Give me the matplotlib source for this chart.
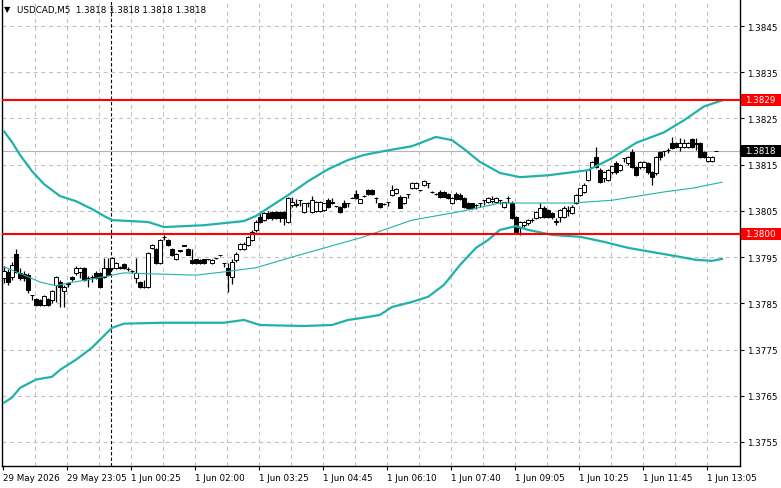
import matplotlib
matplotlib.use('Agg')
import matplotlib.pyplot as plt
from matplotlib.patches import Rectangle

# Chart data (USDCAD, M5).
TITLE = 'USDCAD,M5  1.3818 1.3818 1.3818 1.3818'

OPEN = [1.37905, 1.37918, 1.37907, 1.37956, 1.37916, 1.37914, 1.37911, 1.37868, 1.37860, 1.37857,
        1.37847, 1.37860, 1.37857, 1.37890, 1.37896, 1.37877, 1.37892, 1.37907, 1.37916, 1.37918,
        1.37927, 1.37905, 1.37906, 1.37916, 1.37916, 1.37907, 1.37927, 1.37927, 1.37927, 1.37927,
        1.37936, 1.37925, 1.37920, 1.37905, 1.37896, 1.37886, 1.37885, 1.37970, 1.37967, 1.37937,
        1.37993, 1.37987, 1.37967, 1.37946, 1.37964, 1.37976, 1.37967, 1.37944, 1.37945, 1.37944,
        1.37945, 1.37945, 1.37937, 1.37947, 1.37954, 1.37937, 1.37927, 1.37907, 1.37944, 1.37968,
        1.37968, 1.37976, 1.37987, 1.38009, 1.38037, 1.38030, 1.38045, 1.38048, 1.38047, 1.38048,
        1.38047, 1.38026, 1.38063, 1.38063, 1.38073, 1.38048, 1.38067, 1.38048, 1.38050, 1.38050,
        1.38052, 1.38073, 1.38069, 1.38060, 1.38058, 1.38067, 1.38067, 1.38078, 1.38087, 1.38067,
        1.38082, 1.38095, 1.38095, 1.38078, 1.38067, 1.38065, 1.38069, 1.38084, 1.38088, 1.38080,
        1.38067, 1.38086, 1.38099, 1.38099, 1.38095, 1.38106, 1.38110, 1.38091, 1.38087, 1.38091,
        1.38090, 1.38086, 1.38067, 1.38086, 1.38085, 1.38078, 1.38067, 1.38067, 1.38063, 1.38067,
        1.38073, 1.38069, 1.38071, 1.38069, 1.38073, 1.38058, 1.38078, 1.38067, 1.38037, 1.38013,
        1.38019, 1.38024, 1.38030, 1.38035, 1.38037, 1.38056, 1.38052, 1.38045, 1.38026, 1.38037,
        1.38037, 1.38050, 1.38045, 1.38067, 1.38084, 1.38091, 1.38117, 1.38145, 1.38166, 1.38138,
        1.38121, 1.38117, 1.38134, 1.38153, 1.38138, 1.38164, 1.38153, 1.38177, 1.38145, 1.38145,
        1.38145, 1.38153, 1.38134, 1.38132, 1.38177, 1.38179, 1.38181, 1.38197, 1.38197, 1.38188,
        1.38188, 1.38188, 1.38206, 1.38195, 1.38197, 1.38177, 1.38158, 1.38158, 1.38180]
HIGH = [1.37930, 1.37925, 1.37940, 1.37968, 1.37927, 1.37920, 1.37916, 1.37868, 1.37862, 1.37860,
        1.37868, 1.37862, 1.37879, 1.37910, 1.37900, 1.37890, 1.37896, 1.37910, 1.37930, 1.37929,
        1.37929, 1.37910, 1.37912, 1.37920, 1.37918, 1.37948, 1.37948, 1.37950, 1.37940, 1.37930,
        1.37938, 1.37928, 1.37922, 1.37948, 1.37898, 1.37901, 1.37962, 1.37978, 1.37970, 1.37990,
        1.37998, 1.37989, 1.37970, 1.37958, 1.37966, 1.37977, 1.37970, 1.37967, 1.37946, 1.37946,
        1.37946, 1.37946, 1.37946, 1.37948, 1.37955, 1.37938, 1.37937, 1.37945, 1.37960, 1.37980,
        1.37982, 1.37996, 1.38008, 1.38030, 1.38045, 1.38048, 1.38050, 1.38050, 1.38050, 1.38050,
        1.38050, 1.38080, 1.38080, 1.38075, 1.38074, 1.38068, 1.38070, 1.38082, 1.38072, 1.38071,
        1.38068, 1.38078, 1.38078, 1.38061, 1.38060, 1.38074, 1.38068, 1.38079, 1.38095, 1.38076,
        1.38084, 1.38097, 1.38097, 1.38079, 1.38068, 1.38066, 1.38070, 1.38106, 1.38100, 1.38084,
        1.38080, 1.38087, 1.38112, 1.38112, 1.38096, 1.38117, 1.38111, 1.38092, 1.38088, 1.38095,
        1.38093, 1.38088, 1.38080, 1.38090, 1.38088, 1.38080, 1.38069, 1.38068, 1.38064, 1.38068,
        1.38074, 1.38080, 1.38082, 1.38080, 1.38074, 1.38070, 1.38082, 1.38072, 1.38040, 1.38028,
        1.38028, 1.38032, 1.38034, 1.38050, 1.38067, 1.38060, 1.38055, 1.38048, 1.38035, 1.38055,
        1.38060, 1.38060, 1.38062, 1.38086, 1.38100, 1.38110, 1.38140, 1.38158, 1.38188, 1.38142,
        1.38136, 1.38140, 1.38148, 1.38158, 1.38152, 1.38165, 1.38168, 1.38183, 1.38148, 1.38158,
        1.38158, 1.38156, 1.38136, 1.38168, 1.38180, 1.38180, 1.38185, 1.38210, 1.38200, 1.38208,
        1.38205, 1.38200, 1.38208, 1.38208, 1.38200, 1.38180, 1.38168, 1.38168, 1.38180]
LOW = [1.37895, 1.37890, 1.37900, 1.37915, 1.37900, 1.37898, 1.37872, 1.37858, 1.37845, 1.37845,
       1.37845, 1.37845, 1.37851, 1.37853, 1.37842, 1.37842, 1.37886, 1.37898, 1.37912, 1.37905,
       1.37898, 1.37886, 1.37896, 1.37903, 1.37883, 1.37905, 1.37909, 1.37922, 1.37925, 1.37924,
       1.37925, 1.37920, 1.37916, 1.37894, 1.37883, 1.37884, 1.37883, 1.37968, 1.37936, 1.37935,
       1.37987, 1.37975, 1.37953, 1.37944, 1.37962, 1.37974, 1.37954, 1.37936, 1.37936, 1.37936,
       1.37936, 1.37944, 1.37936, 1.37946, 1.37952, 1.37928, 1.37874, 1.37892, 1.37940, 1.37965,
       1.37966, 1.37975, 1.37985, 1.38005, 1.38024, 1.38028, 1.38033, 1.38030, 1.38033, 1.38026,
       1.38020, 1.38024, 1.38058, 1.38058, 1.38060, 1.38045, 1.38058, 1.38046, 1.38048, 1.38048,
       1.38050, 1.38056, 1.38064, 1.38059, 1.38046, 1.38056, 1.38058, 1.38077, 1.38076, 1.38066,
       1.38080, 1.38084, 1.38085, 1.38067, 1.38057, 1.38063, 1.38060, 1.38082, 1.38086, 1.38056,
       1.38065, 1.38077, 1.38097, 1.38097, 1.38094, 1.38104, 1.38100, 1.38088, 1.38084, 1.38078,
       1.38079, 1.38075, 1.38065, 1.38074, 1.38074, 1.38056, 1.38054, 1.38053, 1.38054, 1.38058,
       1.38063, 1.38066, 1.38068, 1.38067, 1.38064, 1.38056, 1.38068, 1.38033, 1.38002, 1.37998,
       1.38015, 1.38020, 1.38026, 1.38033, 1.38035, 1.38035, 1.38035, 1.38033, 1.38020, 1.38026,
       1.38035, 1.38040, 1.38043, 1.38065, 1.38082, 1.38089, 1.38115, 1.38143, 1.38143, 1.38110,
       1.38112, 1.38115, 1.38130, 1.38130, 1.38136, 1.38155, 1.38150, 1.38143, 1.38125, 1.38140,
       1.38142, 1.38130, 1.38106, 1.38128, 1.38160, 1.38168, 1.38176, 1.38184, 1.38186, 1.38179,
       1.38186, 1.38186, 1.38186, 1.38182, 1.38164, 1.38164, 1.38156, 1.38156, 1.38180]
CLOSE = [1.37920, 1.37896, 1.37933, 1.37918, 1.37905, 1.37905, 1.37879, 1.37867, 1.37847, 1.37847,
         1.37866, 1.37847, 1.37876, 1.37907, 1.37885, 1.37886, 1.37894, 1.37903, 1.37927, 1.37927,
         1.37901, 1.37904, 1.37907, 1.37905, 1.37885, 1.37927, 1.37911, 1.37948, 1.37937, 1.37928,
         1.37927, 1.37924, 1.37919, 1.37916, 1.37885, 1.37885, 1.37959, 1.37976, 1.37937, 1.37987,
         1.37994, 1.37976, 1.37955, 1.37957, 1.37965, 1.37975, 1.37955, 1.37937, 1.37937, 1.37937,
         1.37937, 1.37945, 1.37944, 1.37947, 1.37954, 1.37937, 1.37911, 1.37940, 1.37957, 1.37978,
         1.37978, 1.37993, 1.38004, 1.38026, 1.38026, 1.38045, 1.38035, 1.38035, 1.38035, 1.38035,
         1.38035, 1.38078, 1.38070, 1.38064, 1.38073, 1.38067, 1.38068, 1.38073, 1.38069, 1.38069,
         1.38066, 1.38058, 1.38068, 1.38061, 1.38048, 1.38058, 1.38067, 1.38078, 1.38078, 1.38075,
         1.38082, 1.38086, 1.38087, 1.38078, 1.38058, 1.38065, 1.38069, 1.38095, 1.38097, 1.38056,
         1.38080, 1.38086, 1.38110, 1.38110, 1.38095, 1.38115, 1.38110, 1.38090, 1.38086, 1.38080,
         1.38080, 1.38078, 1.38078, 1.38076, 1.38076, 1.38058, 1.38056, 1.38056, 1.38063, 1.38067,
         1.38073, 1.38078, 1.38075, 1.38078, 1.38073, 1.38069, 1.38078, 1.38035, 1.38004, 1.38026,
         1.38026, 1.38030, 1.38031, 1.38048, 1.38056, 1.38037, 1.38037, 1.38037, 1.38028, 1.38052,
         1.38056, 1.38052, 1.38058, 1.38084, 1.38099, 1.38106, 1.38138, 1.38155, 1.38145, 1.38112,
         1.38134, 1.38138, 1.38147, 1.38134, 1.38149, 1.38164, 1.38166, 1.38145, 1.38127, 1.38155,
         1.38155, 1.38134, 1.38123, 1.38166, 1.38166, 1.38179, 1.38182, 1.38186, 1.38188, 1.38197,
         1.38197, 1.38197, 1.38188, 1.38196, 1.38166, 1.38166, 1.38166, 1.38166, 1.38180]

# Bollinger bands, read at a handful of bar positions
UPPER_BARS = [0, 2, 4, 7, 10, 14, 18, 22, 25, 27, 36, 40, 50, 60, 63, 66, 71, 76, 81, 86,
              90, 96, 102, 108, 112, 115, 119, 124, 129, 136, 146, 152, 158, 165, 170, 175, 179.5]
UPPER = [1.38222, 1.38199, 1.38171, 1.38136, 1.38108, 1.38082, 1.38071, 1.38054, 1.38039, 1.38030,
         1.38026, 1.38015, 1.38019, 1.38028, 1.38039, 1.38056, 1.38084, 1.38114, 1.38140, 1.38160,
         1.38171, 1.38181, 1.38190, 1.38210, 1.38203, 1.38184, 1.38156, 1.38132, 1.38123, 1.38127,
         1.38138, 1.38164, 1.38197, 1.38220, 1.38246, 1.38276, 1.38289]
MIDDLE_BARS = [0, 5, 9, 13, 16, 21, 27, 30, 36, 48, 55, 63, 72, 90, 102, 115, 124, 133, 142,
               152, 165, 172, 179.5]
MIDDLE = [1.37929, 1.37911, 1.37896, 1.37888, 1.37894, 1.37901, 1.37911, 1.37916, 1.37914, 1.37911,
          1.37918, 1.37927, 1.37950, 1.37994, 1.38030, 1.38050, 1.38067, 1.38067, 1.38067,
          1.38073, 1.38091, 1.38099, 1.38112]
LOWER_BARS = [0, 2, 4, 8, 12, 14, 18, 22, 25, 27, 30, 40, 55, 60, 64, 75, 82, 86, 90, 94, 97,
              102, 106, 110, 114, 118, 121, 124, 128, 131, 137, 144, 150, 156, 162, 168, 173, 177,
              179.5]
LOWER = [1.37635, 1.37646, 1.37667, 1.37685, 1.37691, 1.37706, 1.37728, 1.37754, 1.37780, 1.37797,
         1.37806, 1.37808, 1.37808, 1.37814, 1.37803, 1.37801, 1.37803, 1.37814, 1.37819, 1.37825,
         1.37842, 1.37853, 1.37864, 1.37890, 1.37933, 1.37970, 1.37987, 1.38009, 1.38017, 1.38009,
         1.37998, 1.37994, 1.37983, 1.37970, 1.37961, 1.37952, 1.37944, 1.37942, 1.37946]

TIME_LABELS = ['29 May 2026', '29 May 23:05', '1 Jun 00:25', '1 Jun 02:00', '1 Jun 03:25',
               '1 Jun 04:45', '1 Jun 06:10', '1 Jun 07:40', '1 Jun 09:05', '1 Jun 10:25',
               '1 Jun 11:45', '1 Jun 13:05']
PRICE_TICKS = [1.3845, 1.3835, 1.3825, 1.3815, 1.3805, 1.3795, 1.3785, 1.3775, 1.3765, 1.3755]
LEVELS = [1.3829, 1.3800]
BID = 1.3818
DAY_BREAK_BAR = 27

BAND_COLOR = '#20B2AA'
GRID_COLOR = '#C0C0C0'
FONT = 'DejaVu Sans'
FS = 6.3

W, H = 781, 489
fig = plt.figure(figsize=(W / 100, H / 100), dpi=100)
ax = fig.add_axes([2 / W, 22 / H, 738 / W, 466 / H])
ax.set_facecolor('white')

# Candles: black wick, white body when up, black body when down
for i, (o, h, l, c) in enumerate(zip(OPEN, HIGH, LOW, CLOSE)):
    ax.vlines(i, l, h, color='black', lw=0.9, zorder=3)
    body = 'white' if c >= o else 'black'
    ax.bar(i, c - o, bottom=o, width=0.8, color=body, edgecolor='black',
           linewidth=0.7, zorder=4)

# Bollinger bands
ax.plot(UPPER_BARS, UPPER, color=BAND_COLOR, lw=1.6, zorder=5)
ax.plot(LOWER_BARS, LOWER, color=BAND_COLOR, lw=1.6, zorder=5)
ax.plot(MIDDLE_BARS, MIDDLE, color=BAND_COLOR, lw=0.8, zorder=5)

# Bid line and horizontal levels
ax.axhline(BID, color='#B4B4B4', lw=0.8, zorder=2)
for lev in LEVELS:
    ax.axhline(lev, color='#FF0000', lw=1.5, zorder=6)

# Day separator
ax.axvline(DAY_BREAK_BAR - 0.25, color='black', lw=0.8, ls=(0, (3, 2)), zorder=2)

# Axes limits and grid
n_grid = 23
grid_pos = [-0.25 + 8 * k for k in range(n_grid)]
ax.set_xlim(-0.5, 184)
ax.set_ylim(1.37498, 1.385063)
for gx in grid_pos[1:]:
    ax.axvline(gx, color=GRID_COLOR, lw=0.8, ls=(0, (3.5, 3.5)), zorder=1)
for gy in PRICE_TICKS:
    ax.axhline(gy, color=GRID_COLOR, lw=0.8, ls=(0, (3.5, 3.5)), zorder=1)

ax.set_xticks(grid_pos[::2][:len(TIME_LABELS)])
ax.set_xticklabels(TIME_LABELS, ha='left', fontsize=FS, family=FONT)
ax.tick_params(axis='x', direction='out', length=3, width=0.8, pad=2)

ax.yaxis.tick_right()
ax.set_yticks(PRICE_TICKS)
ax.set_yticklabels(['%.4f' % p for p in PRICE_TICKS], fontsize=FS, family=FONT)
ax.tick_params(axis='y', direction='out', length=3, width=0.8, pad=2)

for side in ['left', 'right', 'bottom']:
    ax.spines[side].set_color('black')
    ax.spines[side].set_linewidth(1.0)
ax.spines['top'].set_visible(False)

# Price boxes on the right scale
fig.canvas.draw()
for price, face in [(LEVELS[0], '#FF0000'), (LEVELS[1], '#FF0000'), (BID, 'black')]:
    ypix = ax.transData.transform((0, price))[1]
    fig.patches.append(Rectangle((741 / W, (ypix - 6) / H), 40 / W, 12 / H,
                                 transform=fig.transFigure, facecolor=face,
                                 edgecolor='none', zorder=10))
    fig.text(745 / W, ypix / H, '%.4f' % price, color='white', fontsize=FS,
             family=FONT, va='center', ha='left', zorder=11)

# Title
fig.text(4 / W, 1 - 10 / H, '\u25BC', fontsize=6, family=FONT, va='center', ha='left')
fig.text(17 / W, 1 - 10 / H, TITLE, fontsize=FS, family=FONT, va='center', ha='left')

fig.savefig('out.png', dpi=100, facecolor='white')
